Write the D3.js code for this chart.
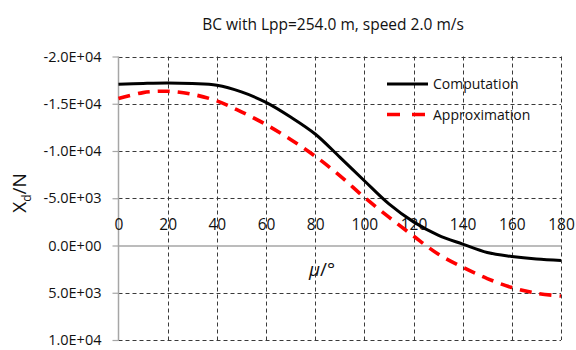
<!DOCTYPE html>
<html>
<head>
<meta charset="utf-8">
<script src="https://cdn.jsdelivr.net/npm/d3@7"></script>
<style>
  html, body { margin: 0; padding: 0; background: #fff; }
  svg { display: block; font-family: "Open Sans", sans-serif; }
</style>
</head>
<body>
<svg id="chart" width="576" height="350"></svg>
<script>
// Drift angle (deg) and longitudinal force X_d (N)
const angles = [0, 10, 20, 30, 40, 50, 60, 70, 80, 90, 100, 110, 120, 130, 140, 150, 160, 170, 180];
const computation = [-17060, -17150, -17200, -17130, -16950, -16250, -15150, -13600, -11800, -9350, -6850, -4400, -2500, -1100, -150, 740, 1160, 1430, 1580];
const approximation = [-15550, -16180, -16320, -16000, -15300, -14140, -12800, -11220, -9450, -7400, -5100, -3000, -1000, 900, 2300, 3500, 4450, 5050, 5350];

const xTicks = [0, 20, 40, 60, 80, 100, 120, 140, 160, 180];
const yTicks = [-20000, -15000, -10000, -5000, 0, 5000, 10000];
const yTickLabels = ["-2.0E+04", "-1.5E+04", "-1.0E+04", "-5.0E+03", "0.0E+00", "5.0E+03", "1.0E+04"];

const seriesNames = ["Computation", "Approximation"];
const chartTitle = "BC with Lpp=254.0 m, speed 2.0 m/s";

const svg = d3.select("#chart");
const plot = { left: 118.5, right: 561, top: 56.5, bottom: 340 };

const x = d3.scaleLinear().domain([0, 180]).range([plot.left, plot.right]);
const y = d3.scaleLinear().domain([-20000, 10000]).range([plot.top, plot.bottom]);

const textColor = "#111";
const gridColor = "#3a3a3a";
const axisColor = "#a6a6a6";

// dashed grid
const grid = svg.append("g");
grid.selectAll("line.h").data(yTicks.filter(v => v !== 0)).join("line")
  .attr("x1", plot.left).attr("x2", plot.right)
  .attr("y1", d => Math.round(y(d)) + 0.5).attr("y2", d => Math.round(y(d)) + 0.5)
  .attr("stroke", gridColor).attr("stroke-width", 1).attr("stroke-dasharray", "4,3");
grid.selectAll("line.v").data(xTicks.filter(v => v !== 0)).join("line")
  .attr("x1", d => Math.round(x(d)) + 0.5).attr("x2", d => Math.round(x(d)) + 0.5)
  .attr("y1", plot.top).attr("y2", plot.bottom)
  .attr("stroke", gridColor).attr("stroke-width", 1).attr("stroke-dasharray", "4,3");

// y axis on the left, reversed (negative up)
const yAxis = d3.axisLeft(y).tickValues(yTicks)
  .tickFormat((d, i) => yTickLabels[i]).tickSize(6).tickPadding(11);
const yg = svg.append("g").attr("transform", `translate(${plot.left},0)`).call(yAxis);
yg.select(".domain").attr("stroke", axisColor).attr("stroke-width", 1.5).attr("d", `M0,${plot.top}V${plot.bottom}`);
yg.selectAll(".tick line").attr("stroke", axisColor).attr("stroke-width", 1.2);
yg.selectAll(".tick text").attr("fill", textColor)
  .style("font-family", "'Open Sans', sans-serif").style("font-size", "14.5px");

// x axis along the zero line, labels above it
const xAxis = d3.axisTop(x).tickValues(xTicks).tickSize(0).tickPadding(16);
const xg = svg.append("g").attr("transform", `translate(0,${y(0)})`).call(xAxis);
xg.select(".domain").attr("stroke", axisColor).attr("stroke-width", 1.5);
xg.selectAll(".tick text").attr("fill", textColor)
  .style("font-family", "'Open Sans', sans-serif").style("font-size", "15.5px");

// curves
const line = d3.line()
  .x((d, i) => x(angles[i]))
  .y(d => y(d))
  .curve(d3.curveCatmullRom.alpha(0.5));

svg.append("path").datum(computation)
  .attr("d", line).attr("fill", "none")
  .attr("stroke", "#000").attr("stroke-width", 3);

svg.append("path").datum(approximation)
  .attr("d", line).attr("fill", "none")
  .attr("stroke", "#ff0000").attr("stroke-width", 3.6)
  .attr("stroke-dasharray", "12,8");

// legend
const legend = svg.append("g");
const legendRows = [
  { name: seriesNames[0], color: "#000", width: 3, dash: null, y: 84 },
  { name: seriesNames[1], color: "#ff0000", width: 3.6, dash: "13,12", y: 114.5 }
];
legendRows.forEach(r => {
  legend.append("line").attr("x1", 387).attr("x2", 428).attr("y1", r.y).attr("y2", r.y)
    .attr("stroke", r.color).attr("stroke-width", r.width)
    .attr("stroke-dasharray", r.dash);
  legend.append("text").attr("x", 433).attr("y", r.y + 5)
    .attr("fill", textColor).style("font-size", "14px").text(r.name);
});

// title
svg.append("text").attr("x", 333).attr("y", 29.5).attr("text-anchor", "middle")
  .attr("fill", textColor).style("font-size", "15.5px").text(chartTitle);

// axis titles
const yTitle = svg.append("text")
  .attr("transform", "translate(26,193) rotate(-90)")
  .attr("text-anchor", "middle").attr("fill", textColor).style("font-size", "19px");
yTitle.append("tspan").text("X");
yTitle.append("tspan").attr("dy", 5).style("font-size", "12px").text("d");
yTitle.append("tspan").attr("dy", -5).text("/N");

const xTitle = svg.append("text").attr("x", 322).attr("y", 276)
  .attr("text-anchor", "middle").attr("fill", textColor).style("font-size", "19px");
xTitle.append("tspan").style("font-style", "italic").text("μ");
xTitle.append("tspan").text("/°");
</script>
</body>
</html>
